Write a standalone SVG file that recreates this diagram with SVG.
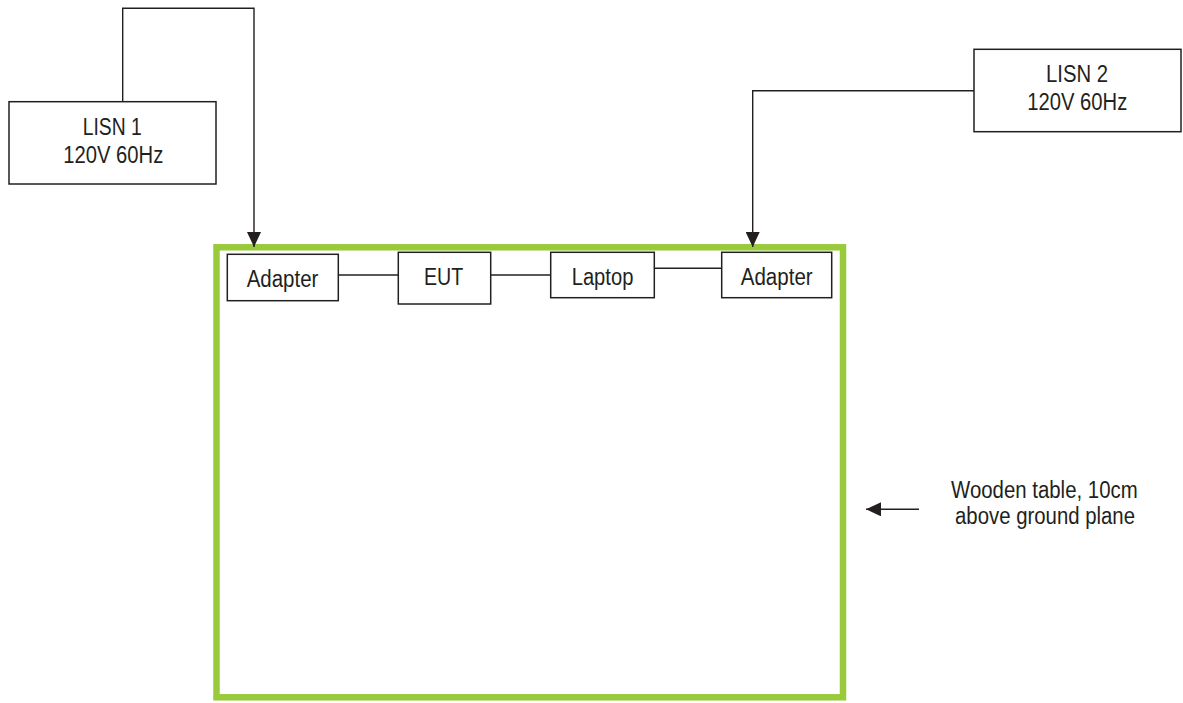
<svg xmlns="http://www.w3.org/2000/svg" width="1183" height="703" viewBox="0 0 1183 703">
<style>
.box{fill:#fff;stroke:#231f20;stroke-width:1.5}
.t{font-family:"Liberation Sans",Arial,sans-serif;font-size:23px;fill:#231f20}
.wire{fill:none;stroke:#231f20;stroke-width:1.4}
</style>
<defs>
<marker id="ah" markerUnits="userSpaceOnUse" markerWidth="16" markerHeight="14" refX="15" refY="7" orient="auto">
<path d="M0,0 L15,7 L0,14 Z" fill="#231f20"/>
</marker>
</defs>
<rect width="1183" height="703" fill="#fff"/>
<g id="table">
<rect x="216.5" y="247.3" width="626.5" height="450" fill="none" stroke="#99ca3c" stroke-width="6.5"/>
</g>
<g id="connectors">
<path class="wire" d="M122.7,102 V8.3 H254 V247" marker-end="url(#ah)"/>
<path class="wire" d="M974,90.7 H752.7 V247" marker-end="url(#ah)"/>
<path class="wire" d="M338.3,275 H398.3"/>
<path class="wire" d="M490.7,275 H550.7"/>
<path class="wire" d="M654.3,268.3 H721.7"/>
<path class="wire" d="M919,509.3 H866" marker-end="url(#ah)"/>
</g>
<g id="lisn1">
<rect class="box" x="9" y="101.7" width="207" height="82.3"/>
<text class="t" x="82.7" y="135" textLength="59" lengthAdjust="spacingAndGlyphs">LISN 1</text>
<text class="t" x="63.3" y="163" textLength="100" lengthAdjust="spacingAndGlyphs">120V 60Hz</text>
</g>
<g id="lisn2">
<rect class="box" x="974" y="49.3" width="207" height="82.4"/>
<text class="t" x="1046" y="81.7" textLength="62" lengthAdjust="spacingAndGlyphs">LISN 2</text>
<text class="t" x="1027.3" y="110" textLength="100" lengthAdjust="spacingAndGlyphs">120V 60Hz</text>
</g>
<g id="adapter1">
<rect class="box" x="227.3" y="254.3" width="111" height="46.4"/>
<text class="t" x="246.7" y="286.7" textLength="71.7" lengthAdjust="spacingAndGlyphs">Adapter</text>
</g>
<g id="eut">
<rect class="box" x="398.3" y="252.3" width="92.4" height="51.7"/>
<text class="t" x="424" y="285" textLength="39.3" lengthAdjust="spacingAndGlyphs">EUT</text>
</g>
<g id="laptop">
<rect class="box" x="550.7" y="252.3" width="103.6" height="45.4"/>
<text class="t" x="571.7" y="285" textLength="61.7" lengthAdjust="spacingAndGlyphs">Laptop</text>
</g>
<g id="adapter2">
<rect class="box" x="721.7" y="252.3" width="110" height="45.4"/>
<text class="t" x="740.7" y="285" textLength="72" lengthAdjust="spacingAndGlyphs">Adapter</text>
</g>
<g id="label">
<text class="t" x="951" y="497.7" textLength="186.7" lengthAdjust="spacingAndGlyphs">Wooden table, 10cm</text>
<text class="t" x="955" y="524" textLength="180" lengthAdjust="spacingAndGlyphs">above ground plane</text>
</g>
</svg>
